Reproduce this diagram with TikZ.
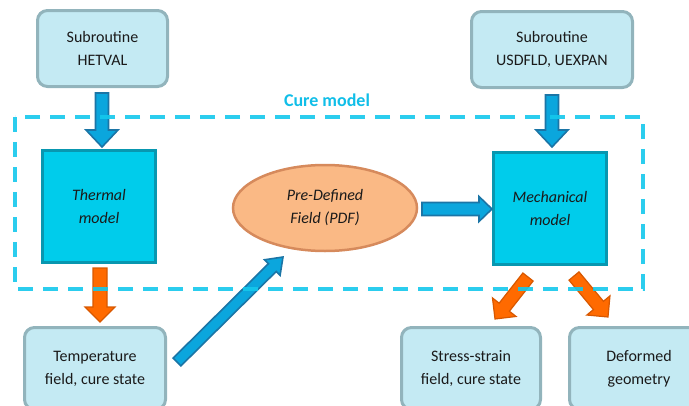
\documentclass[tikz,border=0pt]{standalone}
\usepackage{fontspec}
\setmainfont{Carlito}
\usetikzlibrary{calc,shapes.geometric}
\definecolor{lightbox}{HTML}{C4EAF3}
\definecolor{lightborder}{HTML}{92B4BC}
\definecolor{cyanbox}{HTML}{00CCEB}
\definecolor{cyanborder}{HTML}{0897B0}
\definecolor{dashcol}{HTML}{14C8EC}
\definecolor{curetext}{HTML}{10BEE8}
\definecolor{blueA}{HTML}{0BA6DD}
\definecolor{blueB}{HTML}{1B75A6}
\definecolor{orangeA}{HTML}{FF6A00}
\definecolor{orangeB}{HTML}{D85800}
\definecolor{ellA}{HTML}{FAB985}
\definecolor{ellB}{HTML}{D68A5C}
\definecolor{txt}{HTML}{1A1A1A}
\newcommand\fatarrow[6]{%
  \path[#1] let \p1=(#2), \p2=(#3),
    \n1={atan2(\y2-\y1,\x2-\x1)}, \n2={veclen(\x2-\x1,\y2-\y1)} in
    [shift={(\p1)}, rotate=\n1]
    (0pt,-#4) -- ({\n2-#6},-#4) -- ({\n2-#6},-#5) -- (\n2,0pt)
    -- ({\n2-#6},#5) -- ({\n2-#6},#4) -- (0pt,#4) -- cycle;}
\tikzset{
  lbox/.style={draw=lightborder, fill=lightbox, line width=3pt, rounded corners=10pt,
    align=center, text=txt, font=\fontsize{16}{23}\selectfont},
  cbox/.style={draw=cyanborder, fill=cyanbox, line width=3pt,
    align=center, text=txt, font=\fontsize{16}{23}\selectfont\itshape,
    minimum width=113pt, minimum height=112pt},
  bluearr/.style={fill=blueA, draw=blueB, line width=1.6pt, line join=miter},
  orangearr/.style={fill=orangeA, draw=orangeB, line width=1.2pt, line join=miter},
}
\begin{document}
\begin{tikzpicture}[x=1pt,y=-1pt]
\useasboundingbox (0,0) rectangle (689,405);
% top boxes
\node[lbox, minimum width=130pt, minimum height=76pt] (hetval) at (102.5,48.5) {Subroutine\\HETVAL};
\node[lbox, minimum width=161pt, minimum height=76pt] (usdfld) at (552,49.5) {Subroutine\\USDFLD, UEXPAN};
% models
\node[cbox] (thermal) at (99,206.5) {Thermal\\model};
\node[cbox] (mech) at (550,208.5) {Mechanical\\model};
\node[ellipse, draw=ellB, fill=ellA, line width=2.5pt, minimum width=184pt, minimum height=86pt,
  align=center, text=txt, font=\fontsize{16}{23}\selectfont\itshape] (pdf) at (325,208) {Pre-Defined\\Field (PDF)};
% bottom boxes
\node[lbox, minimum width=141pt, minimum height=82pt] (temp) at (95,368.5) {Temperature\\field, cure state};
\node[lbox, minimum width=139pt, minimum height=82pt] (stress) at (471,368.5) {Stress-strain\\field, cure state};
\node[lbox, minimum width=139pt, minimum height=82pt] (deform) at (639,368.5) {Deformed\\geometry};
% arrow end points
\coordinate (a1s) at (102,93);  \coordinate (a1e) at (102,147);
\coordinate (a2s) at (552,95);  \coordinate (a2e) at (552,147);
\coordinate (a3s) at (100,268); \coordinate (a3e) at (100,322);
\coordinate (a4s) at (177,362); \coordinate (a4e) at (283,257);
\coordinate (a5s) at (422,209); \coordinate (a5e) at (492,209);
\coordinate (a6s) at (528,277); \coordinate (a6e) at (495,319);
\coordinate (a7s) at (574,276); \coordinate (a7e) at (608,317);
\fatarrow{bluearr}{a1s}{a1e}{6.5pt}{16pt}{17pt}
\fatarrow{bluearr}{a2s}{a2e}{6.5pt}{16pt}{17pt}
\fatarrow{orangearr}{a3s}{a3e}{7pt}{15pt}{15pt}
\fatarrow{bluearr}{a4s}{a4e}{5.5pt}{11pt}{15pt}
\fatarrow{bluearr}{a5s}{a5e}{6.5pt}{12.5pt}{13pt}
\fatarrow{orangearr}{a6s}{a6e}{6.5pt}{15pt}{15pt}
\fatarrow{orangearr}{a7s}{a7e}{6.5pt}{15pt}{15pt}
% cure model frame
\node[text=curetext, font=\fontsize{18}{22}\selectfont\bfseries] (cure) at (327,100) {Cure model};
\draw[dashcol, line width=4pt, dash pattern=on 15pt off 10pt, opacity=0.9] (15,117) rectangle (643,289);
\end{tikzpicture}
\end{document}
